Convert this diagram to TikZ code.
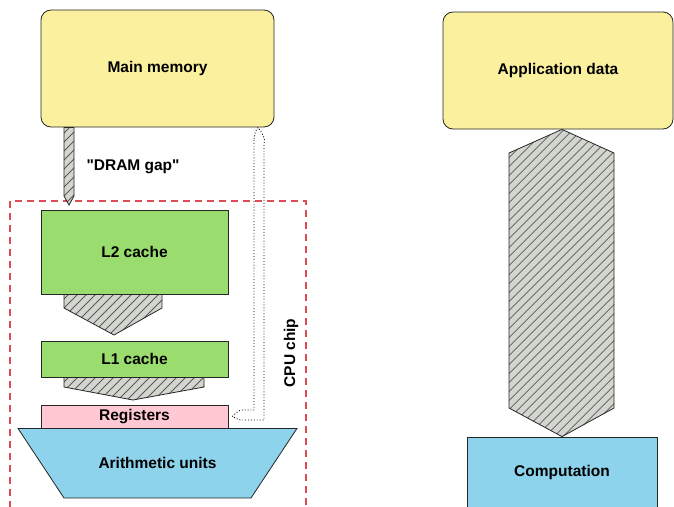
\documentclass[tikz,border=0pt]{standalone}
\usepackage{fontspec}
\setmainfont{Liberation Sans}

\definecolor{memyellow}{HTML}{FBF09E}
\definecolor{cachegreen}{HTML}{9ADC6E}
\definecolor{regpink}{HTML}{FFC8D2}
\definecolor{alublue}{HTML}{8CD3EB}
\definecolor{hatchgray}{HTML}{D3D6CF}
\definecolor{chipred}{HTML}{DC4C55}

\tikzset{
  box/.style={draw=black!85, line width=0.8pt, inner sep=0pt},
  membox/.style={box, fill=memyellow, rounded corners=10pt},
  cachebox/.style={box, fill=cachegreen},
  hatchline/.style={black!65, line width=0.8pt},
  hatcharrow/.style={draw=black!85, line width=0.8pt, fill=hatchgray,
    path picture={\foreach \k in {-40,...,30}
      \draw[hatchline] ([xshift=\k*9pt]path picture bounding box.south west) -- ++(330pt,330pt);}},
}

\begin{document}
\begin{tikzpicture}[x=1pt,y=-1pt, font=\fontsize{15.5}{18}\selectfont\bfseries]
\useasboundingbox (0,0) rectangle (674,506);
\clip (0,0) rectangle (674,506);

% chip boundary
\draw[chipred, line width=1.2pt, dash pattern=on 7pt off 5pt] (10,520) -- (10,201) -- (306,201) -- (306,520);
\node[rotate=90] (chip) at (291,353) {CPU chip};

% memory hierarchy
\node[membox, minimum width=233pt, minimum height=117pt] (mem) at (157.5,68.5) {Main memory};
\node[cachebox, minimum width=187pt, minimum height=84pt] (l2) at (134.5,252) {L2 cache};
\node[cachebox, minimum width=187pt, minimum height=36pt] (l1) at (134.5,359) {L1 cache};
\node[box, fill=regpink, minimum width=187pt, minimum height=23pt] (reg) at (134.5,416.5) {Registers};

\draw[box, fill=alublue] (18,0 |- reg.south) -- (297,0 |- reg.south) -- (251,498) -- (64,498) -- cycle;
\node (alu) at (157.5,463) {Arithmetic units};

% data paths
\path[hatcharrow] (64,0 |- mem.south) -- (64,196) -- (69,205) -- (74,196) -- (74,0 |- mem.south) -- cycle;
\node[anchor=west] (gap) at (83,167) {\textquotedbl DRAM gap\textquotedbl};
\path[hatcharrow] (64,0 |- l2.south) -- (64,308) -- (114,335) -- (162,308) -- (162,0 |- l2.south) -- cycle;
\path[hatcharrow] (64,0 |- l1.south) -- (64,387) -- (133,400) -- (204,387) -- (204,0 |- l1.south) -- cycle;

% write back
\coordinate (back) at ([xshift=4pt]reg.east);
\coordinate (up) at (258,0 |- mem.south);
\draw[dotted, line width=0.9pt] (254,140) -- (254,410) -- (245,410)
  .. controls (239,410) .. (back)
  .. controls (239,420) .. (245,420) -- (264,420) -- (264,145)
  .. controls (266,138) and (262,133) .. (up)
  .. controls (255,132) .. (254,140) -- cycle;

% application side
\node[membox, minimum width=230pt, minimum height=117pt] (app) at (558,70.5) {Application data};
\node[box, fill=alublue, minimum width=190pt, minimum height=70pt] (comp) at (562,472) {Computation};
\path[hatcharrow] (562,0 |- app.south) -- (614,153) -- (614,408) -- (562,0 |- comp.north)
  -- (509,408) -- (509,153) -- cycle;
\end{tikzpicture}
\end{document}
